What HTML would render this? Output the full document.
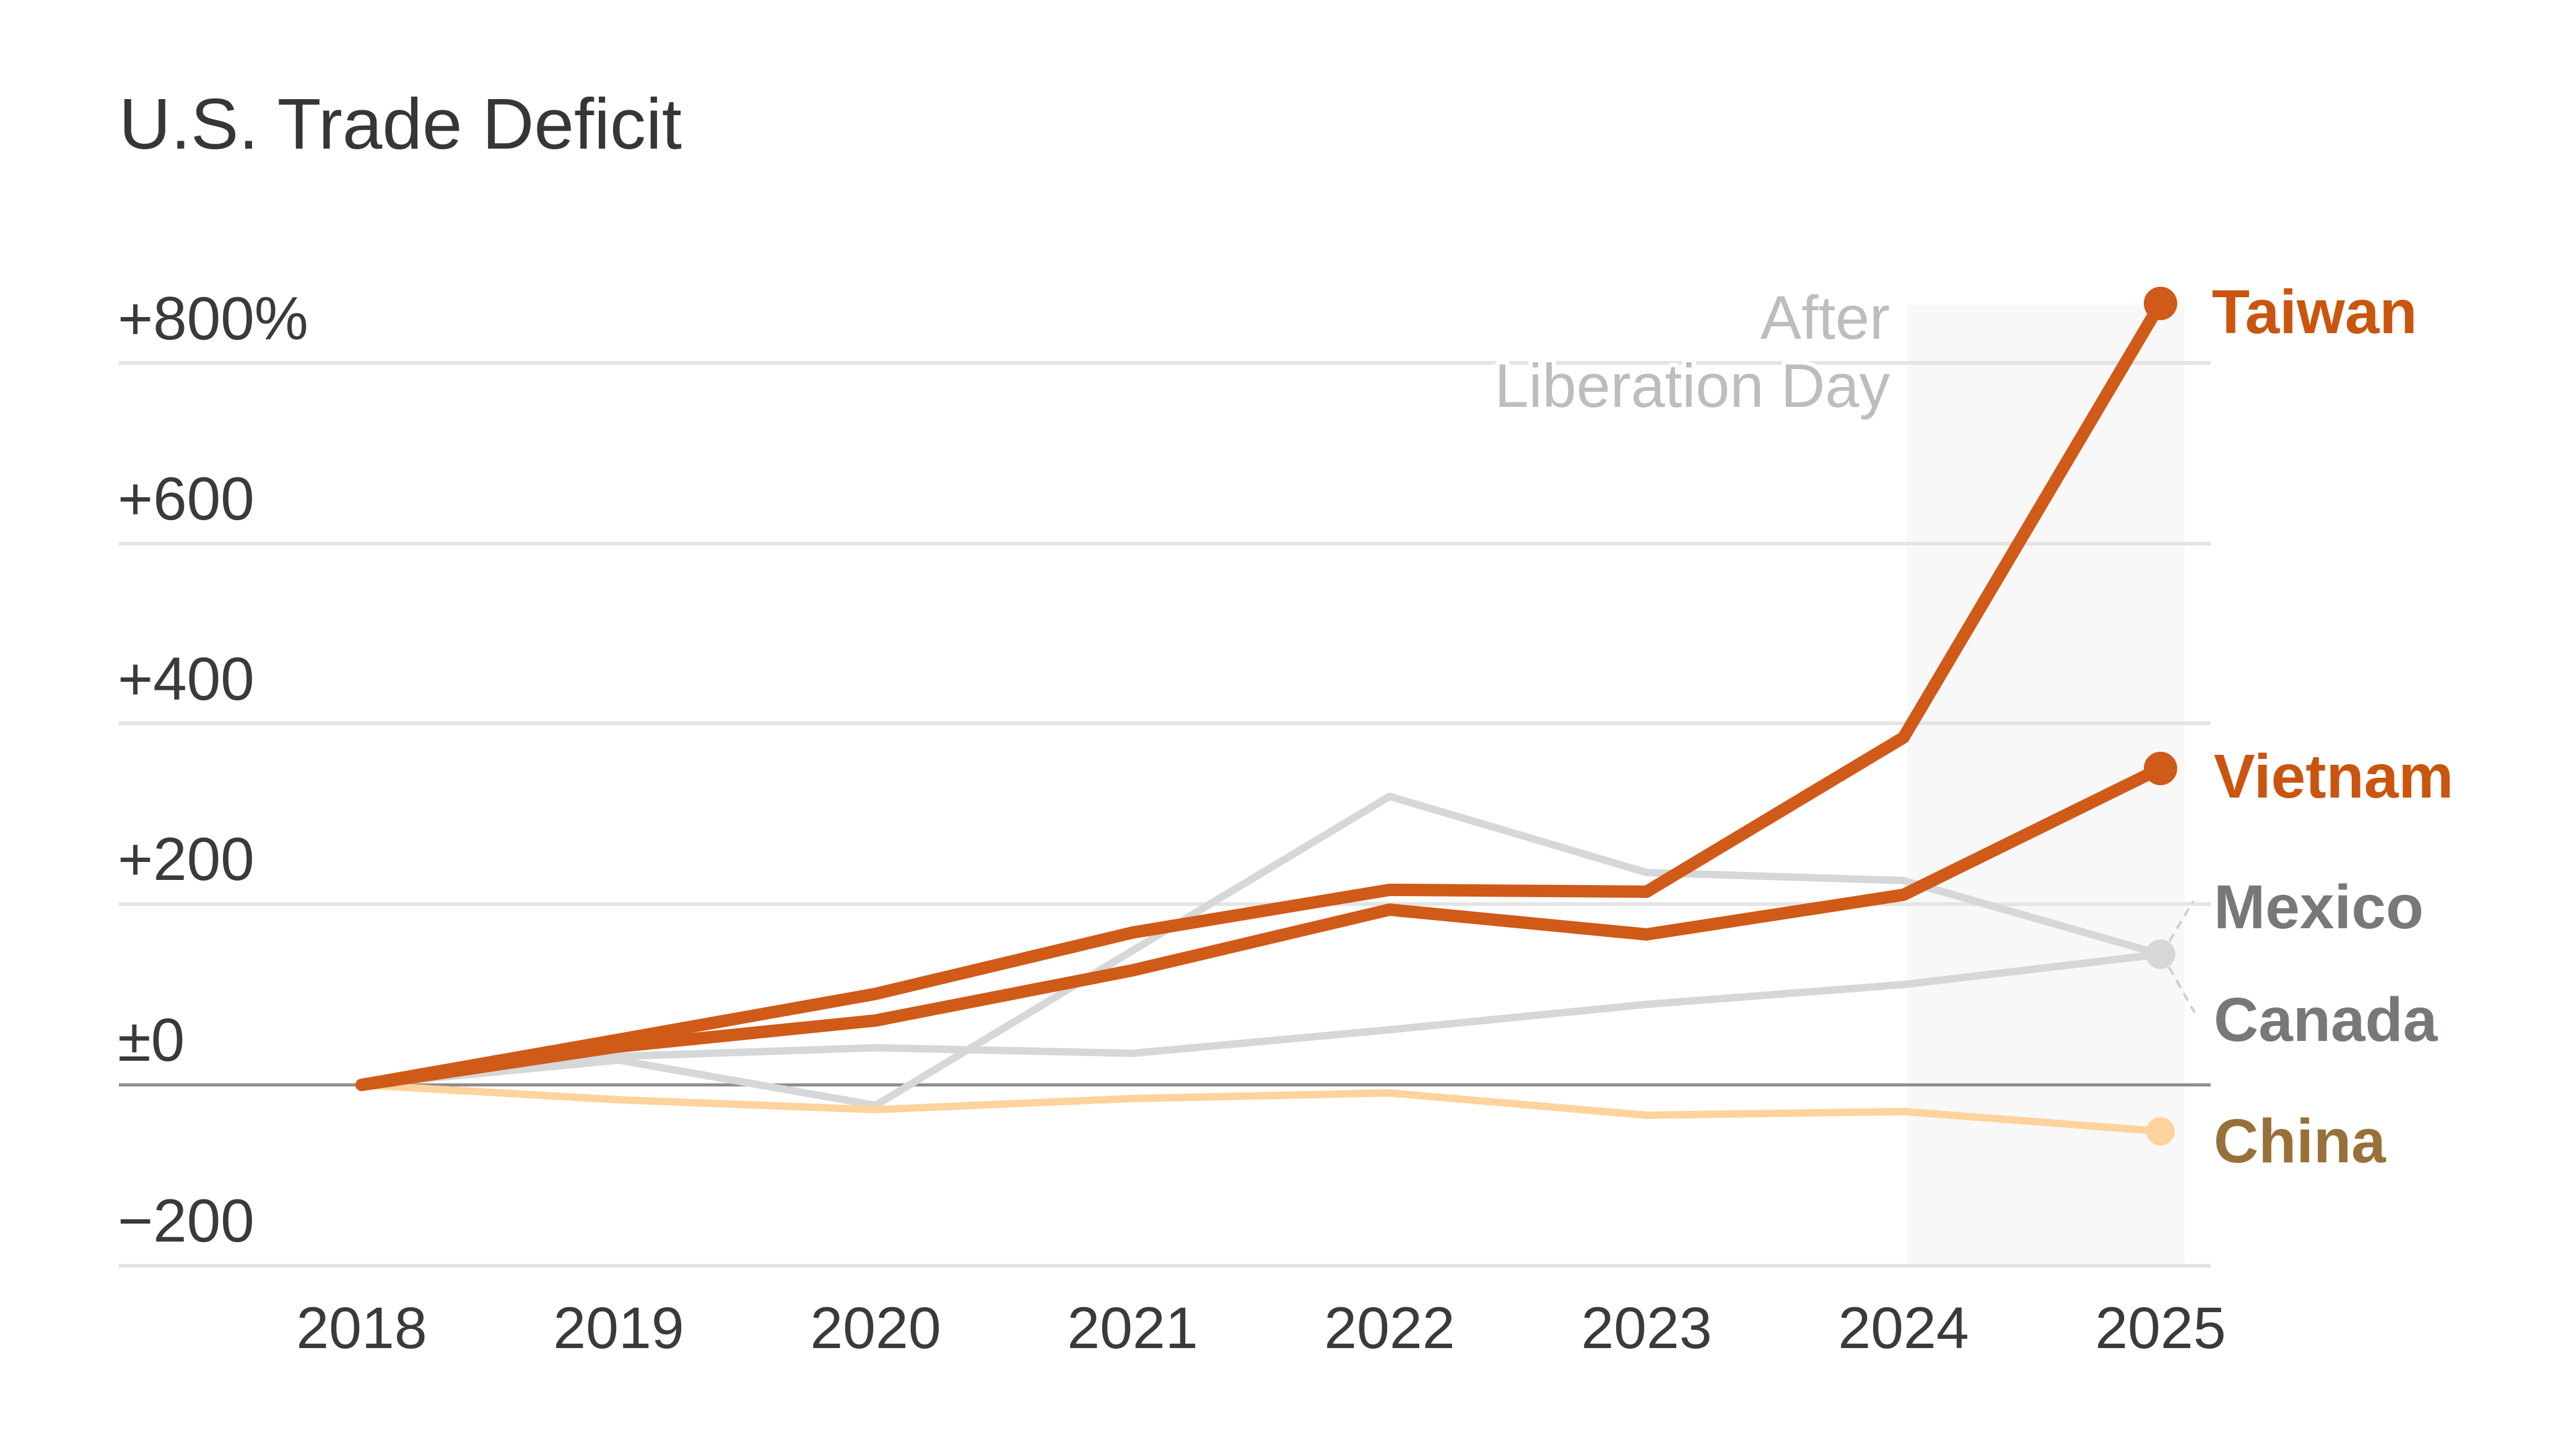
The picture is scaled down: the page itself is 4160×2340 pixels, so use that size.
<!DOCTYPE html>
<html>
<head>
<meta charset="utf-8">
<style>
  html, body { margin: 0; padding: 0; background: #ffffff; }
  body { width: 4160px; height: 2340px; overflow: hidden; }
  svg { display: block; }
  text { font-family: "Liberation Sans", Arial, sans-serif; }
</style>
</head>
<body>
<svg width="4160" height="2340" viewBox="0 0 4160 2340" xmlns="http://www.w3.org/2000/svg">
  <rect x="0" y="0" width="4160" height="2340" fill="#ffffff"/>

  <!-- Title -->
  <text x="192" y="240" font-size="116" fill="#363636">U.S. Trade Deficit</text>

  <!-- shaded region -->
  <rect x="3080" y="492" width="448" height="1550" fill="#f8f8f8"/>

  <!-- gridlines -->
  <g stroke="#e4e4e4" stroke-width="6">
    <line x1="192" y1="586" x2="3570" y2="586"/>
    <line x1="192" y1="878" x2="3570" y2="878"/>
    <line x1="192" y1="1168" x2="3570" y2="1168"/>
    <line x1="192" y1="1460" x2="3570" y2="1460"/>
    <line x1="192" y1="2044" x2="3570" y2="2044"/>
  </g>
  <line x1="192" y1="1752" x2="3570" y2="1752" stroke="#8c8c8c" stroke-width="5"/>

  <!-- Y axis labels -->
  <g font-size="98" fill="#3a3a3a">
    <text x="190" y="548">+800%</text>
    <text x="190" y="839">+600</text>
    <text x="190" y="1130">+400</text>
    <text x="190" y="1421">+200</text>
    <text x="190" y="1713">±0</text>
    <text x="190" y="2005">−200</text>
  </g>

  <!-- X axis labels -->
  <g font-size="95" fill="#3a3a3a" text-anchor="middle">
    <text x="584" y="2177">2018</text>
    <text x="999" y="2177">2019</text>
    <text x="1414" y="2177">2020</text>
    <text x="1829" y="2177">2021</text>
    <text x="2244" y="2177">2022</text>
    <text x="2659" y="2177">2023</text>
    <text x="3074" y="2177">2024</text>
    <text x="3489" y="2177">2025</text>
  </g>

  <!-- After Liberation Day annotation -->
  <g font-size="99" fill="#bdbdbd" text-anchor="end" stroke="#ffffff" stroke-width="14" paint-order="stroke" stroke-linejoin="round">
    <text x="3052" y="547">After</text>
    <text x="3052" y="657">Liberation Day</text>
  </g>

  <!-- gray series -->
  <g fill="none" stroke="#d5d7d9" stroke-width="12" stroke-linejoin="round" stroke-linecap="round">
    <!-- Canada -->
    <polyline points="584,1752 999,1706 1414,1692 1829,1701 2244,1663 2659,1622 3074,1590 3489,1541"/>
    <!-- Mexico -->
    <polyline points="584,1752 999,1712 1414,1785 1829,1535 2244,1286 2659,1409 3074,1422 3489,1541"/>
  </g>

  <!-- China -->
  <polyline points="584,1752 999,1776 1414,1792 1829,1774 2244,1765 2659,1801 3074,1795 3489,1827"
    fill="none" stroke="#ffd39e" stroke-width="12" stroke-linejoin="round" stroke-linecap="round"/>

  <!-- orange series -->
  <g fill="none" stroke="#d05a18" stroke-width="20" stroke-linejoin="round" stroke-linecap="round">
    <!-- Vietnam -->
    <polyline points="584,1752 999,1690 1414,1648 1829,1567 2244,1469 2659,1509 3074,1445 3489,1241"/>
    <!-- Taiwan -->
    <polyline points="584,1752 999,1679 1414,1605 1829,1506 2244,1437 2659,1440 3074,1191 3489,490"/>
  </g>

  <!-- leader lines for Mexico/Canada -->
  <g stroke="#cfcfcf" stroke-width="4" stroke-dasharray="14,10" fill="none">
    <line x1="3491" y1="1541" x2="3542" y2="1455"/>
    <line x1="3491" y1="1541" x2="3544" y2="1635"/>
  </g>

  <!-- end markers -->
  <circle cx="3489" cy="490" r="27" fill="#d05a18"/>
  <circle cx="3489" cy="1241" r="27" fill="#d05a18"/>
  <circle cx="3489" cy="1541" r="24" fill="#d5d7d9"/>
  <circle cx="3489" cy="1827" r="23" fill="#ffd39e"/>

  <!-- series labels -->
  <g font-size="100" font-weight="bold">
    <text x="3572" y="538" fill="#c9550f">Taiwan</text>
    <text x="3575" y="1288" fill="#c9550f">Vietnam</text>
    <text x="3575" y="1499" fill="#76787a">Mexico</text>
    <text x="3575" y="1681" fill="#76787a">Canada</text>
    <text x="3575" y="1877" fill="#98703a">China</text>
  </g>
</svg>
</body>
</html>
